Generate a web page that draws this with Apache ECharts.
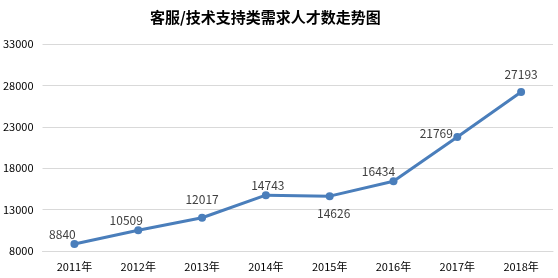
<!DOCTYPE html>
<html><head><meta charset="utf-8">
<script src="https://cdn.jsdelivr.net/npm/echarts@6/dist/echarts.min.js"></script>
<style>html,body{margin:0;padding:0;background:#fff}#c{width:558px;height:278px}</style>
</head><body><div id="c"></div>
<script>
var categories = ['2011年','2012年','2013年','2014年','2015年','2016年','2017年','2018年'];
var values = [8840, 10509, 12017, 14743, 14626, 16434, 21769, 27193];
var chart = echarts.init(document.getElementById('c'));
var font = '"Microsoft YaHei","Noto Sans CJK SC",sans-serif';
var labelOffsets = [[-12,-10],[-12,-10],[0,-18],[2,-10],[4,17],[-15,-10],[-21,-4],[0,-18]];
chart.setOption({
  animation: false,
  title: {text: '客服/技术支持类需求人才数走势图', left: 145, top: 5,
    textStyle: {fontSize: 15, fontWeight: 'bold', color: '#000', fontFamily: font}},
  grid: {left: 41, right: 5, top: 44, bottom: 27},
  xAxis: {type: 'category', data: categories, boundaryGap: true,
    axisLine: {lineStyle: {color: '#d9d9d9'}}, axisTick: {show: false},
    axisLabel: {color: '#000', fontSize: 11, fontFamily: font, margin: 10}},
  yAxis: {type: 'value', min: 8000, max: 33000, interval: 5000,
    axisLine: {show: false}, axisTick: {show: false},
    splitLine: {lineStyle: {color: '#d9d9d9'}},
    axisLabel: {color: '#000', fontSize: 11, fontFamily: font, margin: 9,
      formatter: function(v){ return String(v); }}},
  series: [{type: 'line', data: values.map(function(v, i){
      return {value: v, label: {position: 'inside', offset: labelOffsets[i]}};
    }),
    lineStyle: {color: '#4a7ebb', width: 3}, itemStyle: {color: '#4a7ebb'},
    symbol: 'circle', symbolSize: 8,
    label: {show: true, color: '#404040', fontSize: 12, fontFamily: font}}]
});
</script></body></html>
